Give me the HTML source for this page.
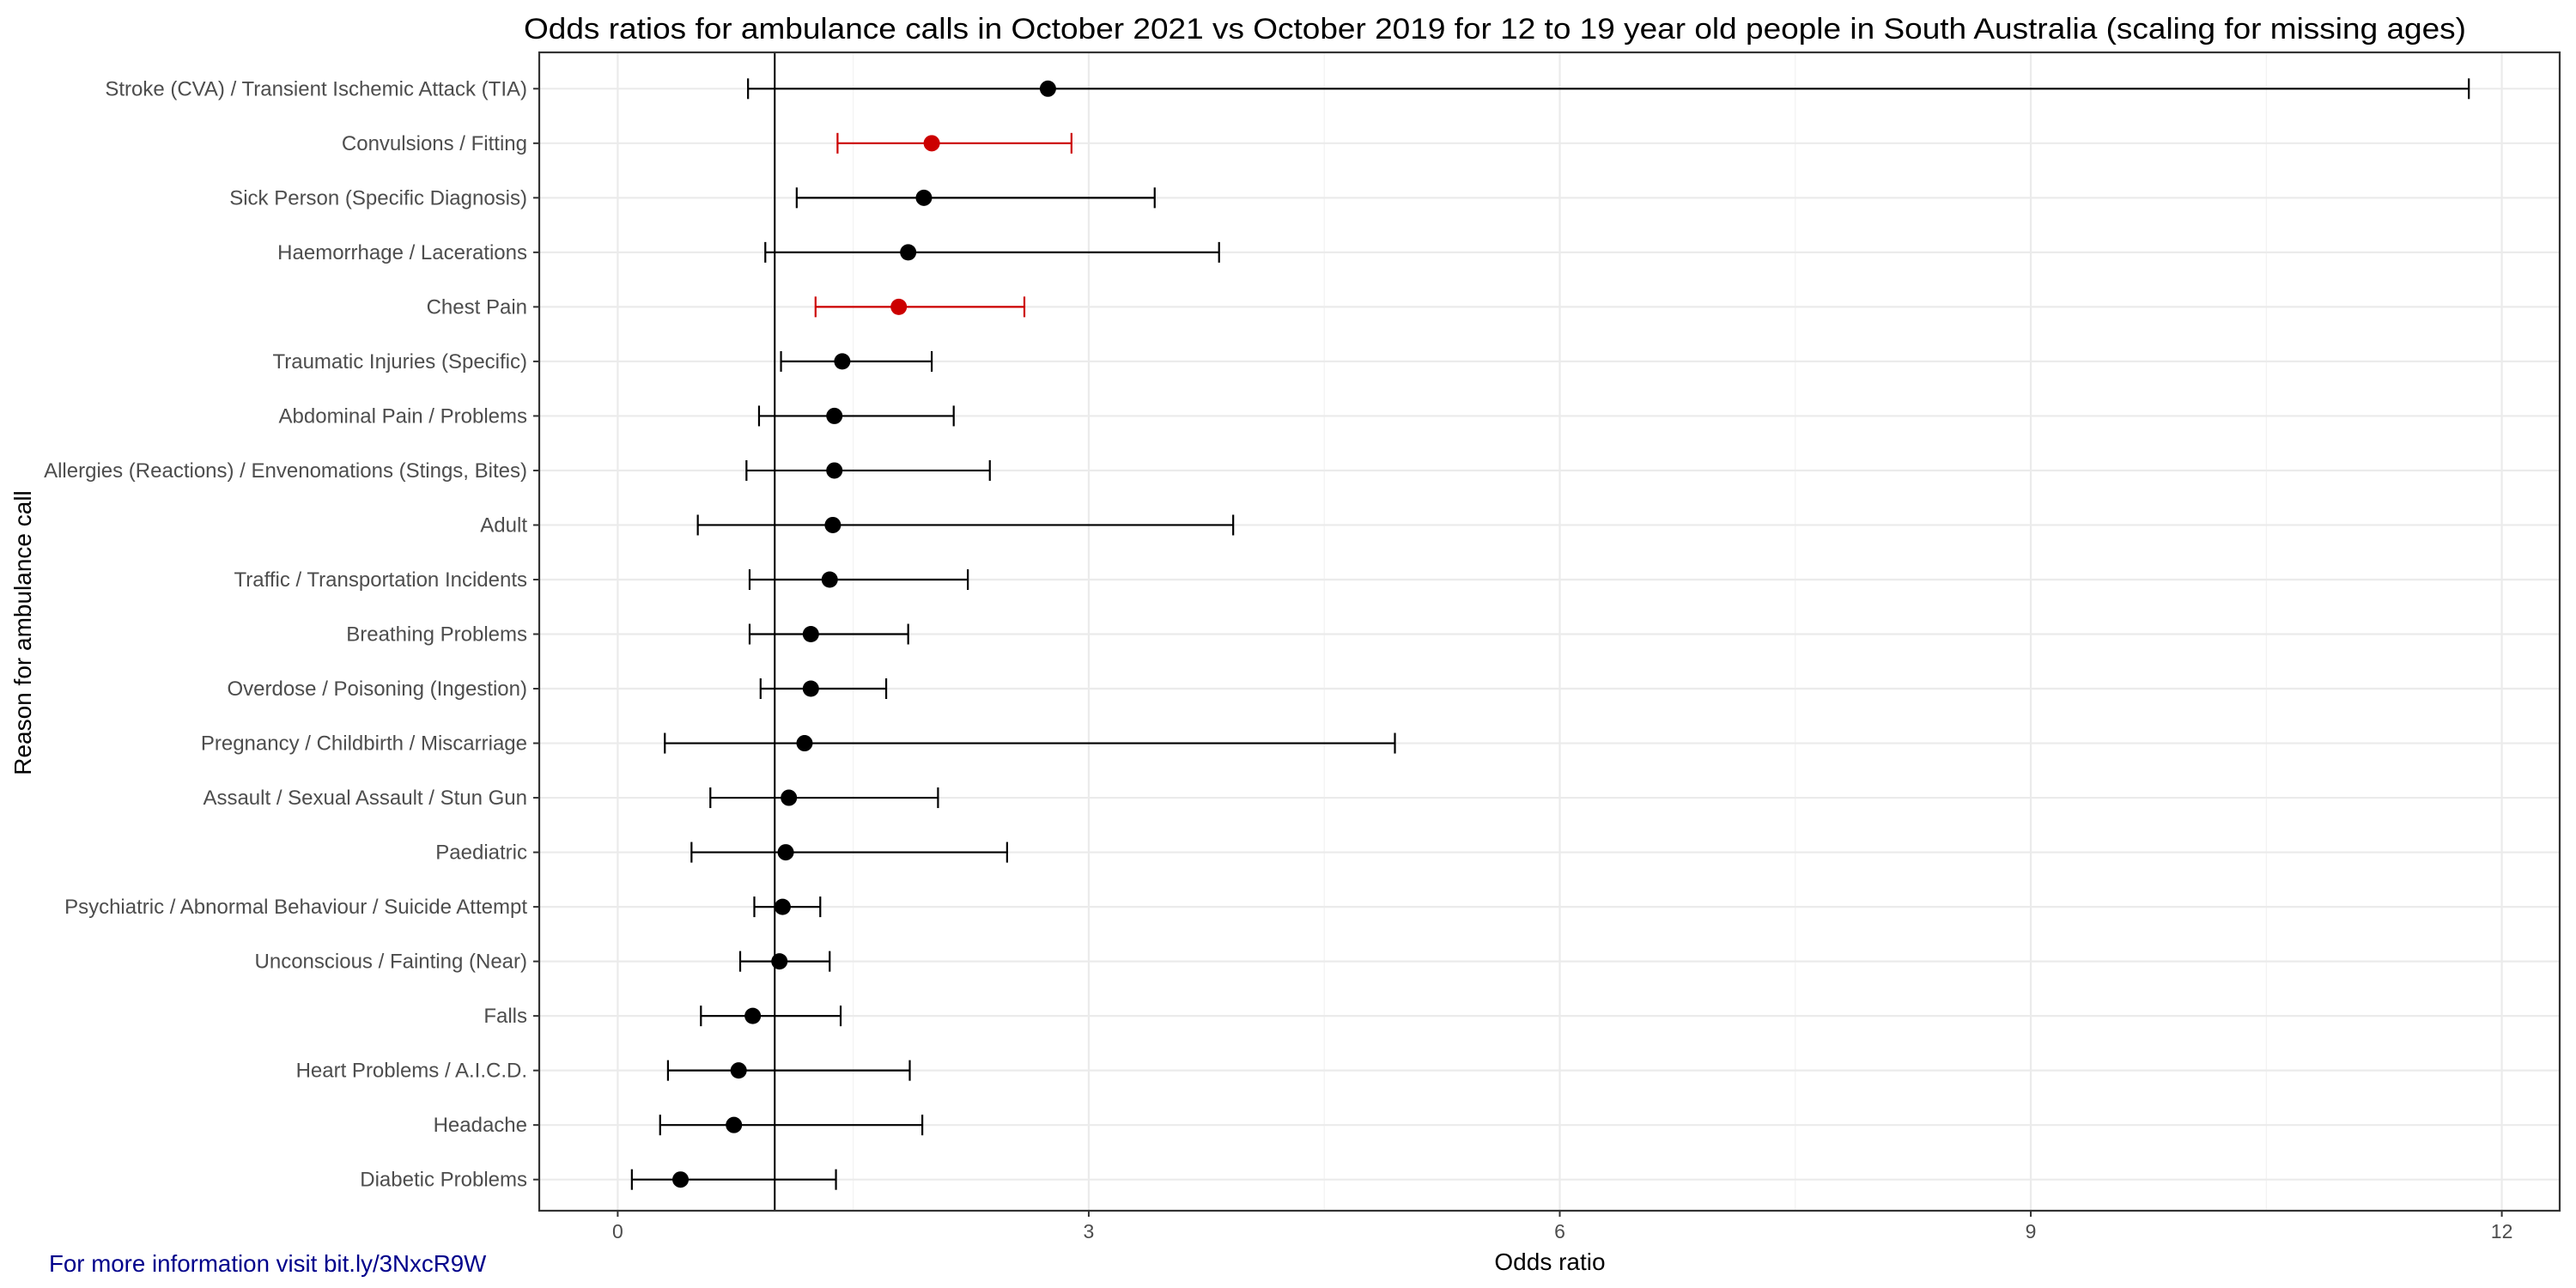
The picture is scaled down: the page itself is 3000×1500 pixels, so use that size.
<!DOCTYPE html>
<html><head><meta charset="utf-8"><style>
html,body{margin:0;padding:0;background:#fff}
svg{display:block;font-family:"Liberation Sans",Arial,sans-serif}
</style></head><body>
<svg id="chart" width="3000" height="1500" viewBox="0 0 3000 1500" xmlns="http://www.w3.org/2000/svg">
<rect width="3000" height="1500" fill="#fff"/>
<text x="610" y="45" font-size="34" fill="#000" textLength="2262" lengthAdjust="spacingAndGlyphs">Odds ratios for ambulance calls in October 2021 vs October 2019 for 12 to 19 year old people in South Australia (scaling for missing ages)</text>
<g id="grid"></g><g id="marks"></g><g id="axes"></g>
<text transform="translate(36,737) rotate(-90)" text-anchor="middle" font-size="28" fill="#000">Reason for ambulance call</text>
<text x="1805" y="1479" text-anchor="middle" font-size="28" fill="#000">Odds ratio</text>
<text x="57" y="1481" font-size="27.7" fill="#00008b">For more information visit bit.ly/3NxcR9W</text>
</svg>
<script>
const categories=["Stroke (CVA) / Transient Ischemic Attack (TIA)","Convulsions / Fitting","Sick Person (Specific Diagnosis)","Haemorrhage / Lacerations","Chest Pain","Traumatic Injuries (Specific)","Abdominal Pain / Problems","Allergies (Reactions) / Envenomations (Stings, Bites)","Adult","Traffic / Transportation Incidents","Breathing Problems","Overdose / Poisoning (Ingestion)","Pregnancy / Childbirth / Miscarriage","Assault / Sexual Assault / Stun Gun","Paediatric","Psychiatric / Abnormal Behaviour / Suicide Attempt","Unconscious / Fainting (Near)","Falls","Heart Problems / A.I.C.D.","Headache","Diabetic Problems"];
const oddsRatio=[2.74,2.00,1.95,1.85,1.79,1.43,1.38,1.38,1.37,1.35,1.23,1.23,1.19,1.09,1.07,1.05,1.03,0.86,0.77,0.74,0.40];
const lowerCI=[0.83,1.40,1.14,0.94,1.26,1.04,0.90,0.82,0.51,0.84,0.84,0.91,0.30,0.59,0.47,0.87,0.78,0.53,0.32,0.27,0.09];
const upperCI=[11.79,2.89,3.42,3.83,2.59,2.00,2.14,2.37,3.92,2.23,1.85,1.71,4.95,2.04,2.48,1.29,1.35,1.42,1.86,1.94,1.39];
const significant=[false,true,false,false,true,false,false,false,false,false,false,false,false,false,false,false,false,false,false,false,false];
const xTicks=[0,3,6,9,12];
const xMinor=[1.5,4.5,7.5,10.5];
const refValue=1;

const NS="http://www.w3.org/2000/svg";
const L=628,R=2981,T=61,B=1410;
const x=v=>719.4+v*182.85;
const y=i=>103.3+i*(1373.7-103.3)/(categories.length-1);
function mk(tag,attrs,parent){const e=document.createElementNS(NS,tag);for(const k in attrs)e.setAttribute(k,attrs[k]);parent.appendChild(e);return e;}
const grid=document.getElementById('grid'),marks=document.getElementById('marks'),axes=document.getElementById('axes');
xMinor.forEach(v=>{const l=mk('line',{x1:x(v),x2:x(v),y1:T,y2:B,stroke:'#f2f2f2','stroke-width':1.2},grid);

});
xTicks.forEach(v=>{const l=mk('line',{x1:x(v),x2:x(v),y1:T,y2:B,stroke:'#ebebeb','stroke-width':2.2},grid);

});
categories.forEach((c,i)=>{const l=mk('line',{x1:L,x2:R,y1:y(i),y2:y(i),stroke:'#ebebeb','stroke-width':2.2},grid);

});
const ref=mk('line',{x1:x(refValue),x2:x(refValue),y1:T,y2:B,stroke:'#000','stroke-width':2},marks);


categories.forEach((c,i)=>{
 const col=significant[i]?'#cc0000':'#000';const yy=y(i);
 const g=mk('g',{},marks);
 
 
 mk('line',{x1:x(lowerCI[i]),x2:x(upperCI[i]),y1:yy,y2:yy,stroke:col,'stroke-width':2.2},g);
 mk('line',{x1:x(lowerCI[i]),x2:x(lowerCI[i]),y1:yy-12,y2:yy+12,stroke:col,'stroke-width':2.2},g);
 mk('line',{x1:x(upperCI[i]),x2:x(upperCI[i]),y1:yy-12,y2:yy+12,stroke:col,'stroke-width':2.2},g);
 const p=mk('circle',{cx:x(oddsRatio[i]),cy:yy,r:9.5,fill:col},marks);
 
 
 const t=mk('text',{x:L-14,y:yy+8,'text-anchor':'end','font-size':24,fill:'#4d4d4d'},axes);
 t.textContent=c;
 
 
 mk('line',{x1:L-7,x2:L,y1:yy,y2:yy,stroke:'#333','stroke-width':2},axes);
});
xTicks.forEach(v=>{
 mk('line',{x1:x(v),x2:x(v),y1:B,y2:B+7,stroke:'#333','stroke-width':2},axes);
 const t=mk('text',{x:x(v),y:B+32,'text-anchor':'middle','font-size':23,fill:'#4d4d4d'},axes);
 t.textContent=v;
 
 
});
const frame=mk('rect',{x:L,y:T,width:R-L,height:B-T,fill:'none',stroke:'#333','stroke-width':2.2},axes);


</script>
</body></html>
